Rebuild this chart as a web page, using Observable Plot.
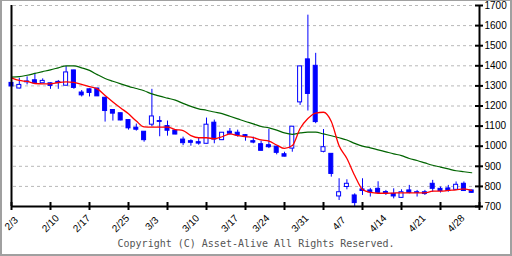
<!DOCTYPE html>
<html>
<head>
<meta charset="utf-8">
<script src="https://cdn.jsdelivr.net/npm/d3@7"></script>
<script src="https://cdn.jsdelivr.net/npm/@observablehq/plot@0.6"></script>
<style>
  html, body { margin: 0; padding: 0; background: white; }
  #wrap { position: relative; width: 512px; height: 256px; overflow: hidden; }
  #border { position: absolute; left: 0; top: 0; width: 512px; height: 256px; box-sizing: border-box;
            border-style: solid; border-color: #a0a0a0; border-width: 1px 2px 2px 2px; pointer-events: none; }
</style>
</head>
<body>
<div id="wrap"><div id="border"></div></div>
<script>
// OHLC per trading day (index 0 = 2/3)
const opens  = [1315,1287,1322,1328,1313,1313,1320,1301,1377,1267,1283,1287,1241,1180,1164,1130,1092,1072,1107,1125,
                1100,1078,1033,1025,1020,1012,1117,1030,1072,1067,1055,1025,1010,1005,998,960,988,1218,1432,1400,
                972,962,750,797,755,785,780,788,772,763,743,780,771,771,813,788,790,783,813,780];
const highs  = [1318,1338,1345,1362,1335,1315,1327,1397,1378,1277,1285,1288,1243,1182,1165,1131,1110,1073,1283,1147,
                1125,1080,1045,1032,1040,1140,1130,1068,1088,1080,1058,1045,1025,1083,1000,970,1098,1398,1652,1462,
                1083,963,838,833,763,838,790,823,780,788,783,805,780,780,830,797,805,822,822,781];
const lows   = [1295,1285,1305,1310,1312,1283,1283,1300,1283,1245,1245,1247,1120,1125,1126,1080,1075,1020,1097,1047,
                1050,1057,1003,1000,1005,1011,1012,1028,1055,1045,1025,1012,976,988,957,947,970,1203,1175,1112,
                967,846,730,783,700,755,747,763,755,738,742,763,747,755,771,767,771,780,777,767];
const closes = [1297,1305,1318,1313,1325,1300,1314,1367,1290,1253,1265,1248,1175,1162,1128,1089,1082,1030,1148,1121,
                1077,1058,1015,1017,1013,1107,1033,1067,1062,1053,1048,1018,977,995,967,948,1097,1397,1260,1120,
                995,862,771,813,717,777,770,768,765,750,771,768,768,762,788,777,778,808,777,768];
// short moving average (red)
const maShort = [1340,1327,1322,1312,1310,1310,1317,1320,1318,1307,1297,1285,1252,1220,1190,1161,1125,1096,1095,1095,
                 1095,1083,1078,1053,1042,1042,1037,1047,1061,1053,1048,1043,1031,1025,1006,989,1003,1088,1138,1165,
                 1169,1123,1002,939,854,785,770,766,766,767,768,768,768,768,776,776,780,783,788,780];
// long moving average (green)
const maLong  = [1344,1346,1353,1362,1371,1380,1390,1400,1400,1390,1377,1356,1337,1323,1310,1298,1287,1276,1260,1249,
                 1239,1229,1213,1198,1186,1179,1170,1162,1149,1136,1123,1111,1098,1091,1080,1066,1059,1066,1070,1070,
                 1061,1052,1042,1031,1014,1000,992,982,972,962,953,939,929,917,905,896,887,878,873,868];
// x axis
const xTickIdx   = [0,5,10,15,20,25,30,35,40,45,50,55,60];
const xLabelIdx  = [0,5,9,14,18,23,28,32,37,42,47,52,57];
const xLabelText = ["2/3","2/10","2/17","2/25","3/3","3/10","3/17","3/24","3/31","4/7","4/14","4/21","4/28"];
// y axis
const yTicks = [700,800,900,1000,1100,1200,1300,1400,1500,1600,1700];
const gridVals = [800,900,1000,1100,1200,1300,1400,1500,1600,1700];
const copyright = "Copyright (C) Asset-Alive All Rights Reserved.";

const candles = opens.map((o, i) => ({i, o, h: highs[i], l: lows[i], c: closes[i]}));
const shortLine = maShort.map((v, i) => ({i, v}));
const longLine = maLong.map((v, i) => ({i, v}));
const xLabels = xLabelIdx.map((i, k) => ({i, t: xLabelText[k]}));
const blue = "#0000ff";

const chart = Plot.plot({
  width: 512, height: 256,
  marginLeft: 11, marginRight: 33, marginTop: 5, marginBottom: 50,
  x: {domain: [0, 60], axis: null},
  y: {domain: [700, 1700], axis: null},
  style: {background: "white", fontFamily: "Liberation Sans, Arial, sans-serif", fontSize: "10px", overflow: "visible"},
  marks: [
    Plot.ruleY(gridVals, {stroke: "#b8b8b8", strokeDasharray: "3,3", strokeWidth: 1, insetLeft: 2, insetRight: 4}),
    Plot.ruleX(candles, {x: "i", y1: "l", y2: "h", stroke: blue, strokeWidth: 1}),
    Plot.rect(candles, {x1: "i", x2: "i", y1: "o", y2: "c", insetLeft: -2, insetRight: -2,
      fill: d => d.c > d.o ? "white" : blue, stroke: blue, strokeWidth: 1}),
    Plot.line(longLine, {x: "i", y: "v", stroke: "#006400", strokeWidth: 1.2, curve: "monotone-x"}),
    Plot.line(shortLine, {x: "i", y: "v", stroke: "#ff0000", strokeWidth: 1.3, curve: "monotone-x"}),
    Plot.ruleX([0], {stroke: "black", strokeWidth: 2}),
    Plot.ruleX([60], {stroke: "black", strokeWidth: 2}),
    Plot.ruleY([700], {stroke: "black", strokeWidth: 2}),
    Plot.ruleX(xTickIdx, {x: d => d, y1: () => 700, y2: () => 700, insetTop: -4, insetBottom: -4, stroke: "black", strokeWidth: 2}),
    Plot.ruleY(yTicks, {y: d => d, x1: () => 60, x2: () => 60, insetLeft: -4, insetRight: -4, stroke: "black", strokeWidth: 2}),
    Plot.text(yTicks, {x: () => 60, y: d => d, text: d => String(d), dx: 5, textAnchor: "start", fill: "black", fontSize: 10}),
    Plot.text(xLabels, {x: "i", y: () => 700, text: "t", rotate: -45, dy: 17, textAnchor: "middle", fill: "black", fontSize: 10}),
    Plot.text([copyright], {text: d => d, frameAnchor: "bottom", dy: 40, dx: 10.5, fontFamily: "DejaVu Sans Mono, monospace", fontSize: 10, fill: "#555"})
  ]
});
document.getElementById("wrap").insertBefore(chart, document.getElementById("border"));
</script>
</body>
</html>
